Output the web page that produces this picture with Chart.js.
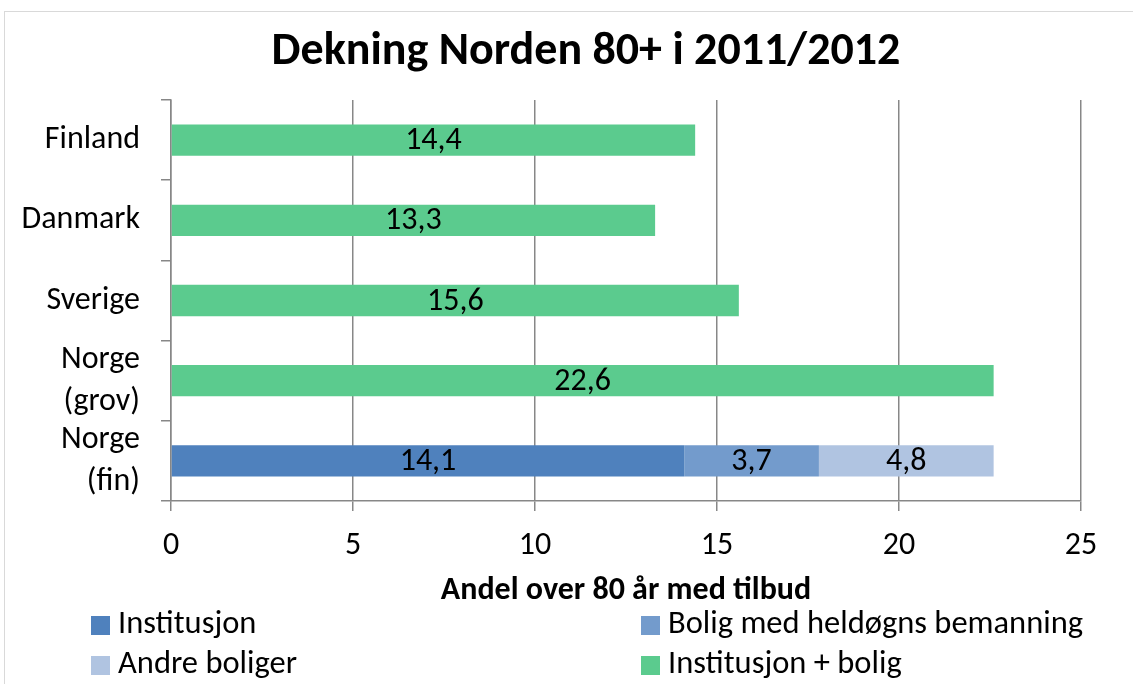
<!DOCTYPE html>
<html lang="no">
<head>
    <meta charset="UTF-8">
    <title>Dekning Norden 80+ i 2011/2012</title>
    <script src="https://cdn.jsdelivr.net/npm/chart.js"></script>
    <style>
        body {
            margin: 0;
            background: #fff;
        }
        .wrap {
            position: relative;
            width: 1133px;
            height: 684px;
        }
    </style>
</head>
<body>
    <div class="wrap">
        <canvas id="chart"></canvas>
    </div>

    <script>
        // data
        const countries = ["Finland", "Danmark", "Sverige", ["Norge", "(grov)"], ["Norge", "(fin)"]];
        const seriesNames = ["Institusjon", "Bolig med heldøgns bemanning", "Andre boliger", "Institusjon + bolig"];
        const institusjon = [0, 0, 0, 0, 14.1];
        const boligHeldogn = [0, 0, 0, 0, 3.7];
        const andreBoliger = [0, 0, 0, 0, 4.8];
        const instPlusBolig = [14.4, 13.3, 15.6, 22.6, 0];
        const xTicks = [0, 5, 10, 15, 20, 25];

        const colors = ["#4F81BD", "#739BCC", "#B0C4E1", "#5BCB8E"];
        const FONT = "Carlito, 'Open Sans', sans-serif";
        const gridGray = "#878787";

        const frameAndText = {
            id: "frameAndText",
            beforeDraw(chart) {
                const c = chart.ctx;
                c.save();
                c.fillStyle = "#fff";
                c.fillRect(0, 0, chart.width, chart.height);
                c.strokeStyle = "#d9d9d9";
                c.lineWidth = 1;
                c.strokeRect(4.5, 11.5, 1300, 900);
                c.restore();
            },
            afterDraw(chart) {
                const c = chart.ctx;
                c.save();
                // title
                c.fillStyle = "#000";
                c.font = "bold 46px " + FONT;
                c.textAlign = "center";
                c.textBaseline = "middle";
                c.fillText("Dekning Norden 80+ i 2011/2012", 586, 52);

                // value labels in the bars
                c.font = "32px " + FONT;
                chart.data.datasets.forEach((ds, i) => {
                    const meta = chart.getDatasetMeta(i);
                    meta.data.forEach((bar, j) => {
                        const v = ds.data[j];
                        if (!v) return;
                        const cx = (bar.x + bar.base) / 2;
                        c.fillText(v.toFixed(1).replace(".", ","), cx, bar.y + 1);
                    });
                });

                // legend in two columns
                const colX = [91, 641];
                const rowY = [625, 665];
                c.textAlign = "left";
                c.font = "32.5px " + FONT;
                chart.data.datasets.forEach((ds, i) => {
                    const x = colX[i % 2];
                    const y = rowY[Math.floor(i / 2)];
                    c.fillStyle = ds.backgroundColor;
                    c.fillRect(x, y - 9, 19, 19);
                    c.fillStyle = "#000";
                    c.fillText(ds.label, x + 27, y);
                });
                c.restore();
            }
        };

        const seriesData = [institusjon, boligHeldogn, andreBoliger, instPlusBolig];

        new Chart(document.getElementById("chart"), {
            type: "bar",
            data: {
                labels: countries,
                datasets: seriesNames.map((name, i) => ({
                    label: name,
                    data: seriesData[i],
                    backgroundColor: colors[i],
                    borderWidth: 0,
                    categoryPercentage: 1,
                    barPercentage: 0.39
                }))
            },
            options: {
                indexAxis: "y",
                responsive: true,
                maintainAspectRatio: false,
                animation: false,
                layout: { padding: { top: 100, right: 52, bottom: 73, left: 0 } },
                plugins: {
                    legend: { display: false },
                    title: { display: false },
                    tooltip: { enabled: false }
                },
                scales: {
                    x: {
                        stacked: true,
                        min: 0,
                        max: 25,
                        afterBuildTicks(scale) {
                            scale.ticks = xTicks.map(v => ({ value: v }));
                        },
                        afterFit(scale) { scale.height = 110; },
                        grid: { color: gridGray, lineWidth: 1.5, tickLength: 10 },
                        border: { color: gridGray, width: 1.5 },
                        ticks: { color: "#000", padding: 16, autoSkip: false, maxRotation: 0, font: { family: FONT, size: 32 } },
                        title: {
                            display: true,
                            text: "Andel over 80 år med tilbud",
                            color: "#000",
                            font: { family: FONT, size: 32, weight: "bold" },
                            padding: { top: 0, bottom: 1 }
                        }
                    },
                    y: {
                        stacked: true,
                        afterFit(scale) { scale.width = 171; },
                        grid: { offset: true, drawOnChartArea: false, color: gridGray, lineWidth: 1.5, tickLength: 10 },
                        border: { color: gridGray, width: 1.5 },
                        ticks: { color: "#000", padding: 21, autoSkip: false, font: { family: FONT, size: 32, lineHeight: 1.31 } }
                    }
                }
            },
            plugins: [frameAndText]
        });
    </script>
</body>
</html>
